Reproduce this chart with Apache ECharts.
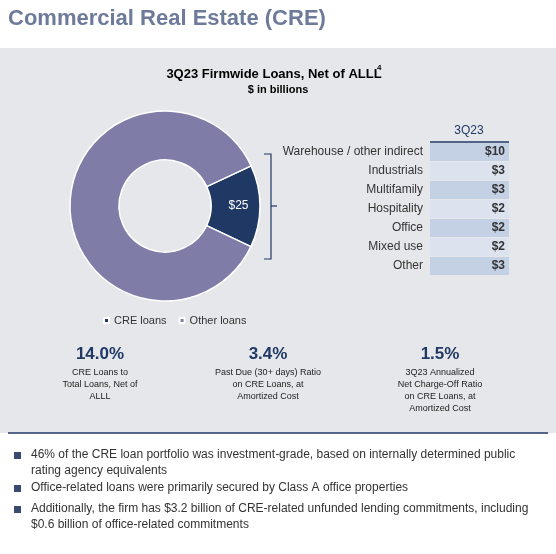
<!DOCTYPE html>
<html><head><meta charset="utf-8">
<script src="https://cdn.jsdelivr.net/npm/echarts@6/dist/echarts.min.js"></script>
<style>html,body{margin:0;padding:0;background:#e6e7ea}#c{width:556px;height:554px}</style>
</head><body><div id="c"></div>
<script>
const pieNames = ['CRE loans', 'Other loans'];
const pieValues = [25, 154];
const tableLabels = ['Warehouse / other indirect','Industrials','Multifamily','Hospitality','Office','Mixed use','Other'];
const tableValues = ['$10','$3','$3','$2','$2','$2','$3'];
const kpiValues = ['14.0%','3.4%','1.5%'];
const kpiTexts = ['CRE Loans to\nTotal Loans, Net of\nALLL','Past Due (30+ days) Ratio\non CRE Loans, at\nAmortized Cost','3Q23 Annualized\nNet Charge-Off Ratio\non CRE Loans, at\nAmortized Cost'];
const kpiX = [100, 268, 440];
const bullets = ['46% of the CRE loan portfolio was investment-grade, based on internally determined public\nrating agency equivalents','Office-related loans were primarily secured by Class A office properties','Additionally, the firm has $3.2 billion of CRE-related unfunded lending commitments, including\n$0.6 billion of office-related commitments'];
const bulletY = [447, 480, 501];

const F = 'Liberation Sans, Arial, sans-serif';
const navy = '#1f3864';
const g = [];
g.push({type:'rect',shape:{x:0,y:0,width:556,height:48},style:{fill:'#fff'},z:-1});
g.push({type:'text',x:8,y:8,style:{text:'Commercial Real Estate (CRE)',font:'bold 22px '+F,fill:'#6d7a99'}});
g.push({type:'rect',shape:{x:0,y:433,width:556,height:121},style:{fill:'#fff'},z:-1});
g.push({type:'line',shape:{x1:8,y1:433,x2:548,y2:433},style:{stroke:navy,lineWidth:1.5}});
g.push({type:'text',x:274,y:68,style:{text:'3Q23 Firmwide Loans, Net of ALLL',font:'bold 13px '+F,fill:'#000',align:'center'}});
g.push({type:'text',x:377,y:64,style:{text:'4',font:'bold 8px '+F,fill:'#000'}});
g.push({type:'text',x:278,y:84,style:{text:'$ in billions',font:'bold 11px '+F,fill:'#000',align:'center'}});
g.push({type:'polyline',shape:{points:[[264,154],[271,154],[271,259],[264,259]]},style:{stroke:navy,lineWidth:1.2,fill:null}});
g.push({type:'line',shape:{x1:271,y1:206,x2:277,y2:206},style:{stroke:navy,lineWidth:1.2}});
g.push({type:'text',x:469,y:125,style:{text:'3Q23',font:'12px '+F,fill:navy,align:'center'}});
g.push({type:'line',shape:{x1:430,y1:142,x2:509,y2:142},style:{stroke:navy,lineWidth:1.5}});
tableLabels.forEach((l,i)=>{
  const y=143+i*19;
  g.push({type:'rect',shape:{x:430,y:y,width:79,height:18},style:{fill:i%2?'#dce3ef':'#c4d0e4'}});
  g.push({type:'text',x:423,y:y+3,style:{text:l,font:'12px '+F,fill:'#333',align:'right'}});
  g.push({type:'text',x:505,y:y+3,style:{text:tableValues[i],font:'bold 12px '+F,fill:'#333',align:'right'}});
});
kpiValues.forEach((v,i)=>{
  g.push({type:'text',x:kpiX[i],y:346,style:{text:v,font:'bold 17px '+F,fill:navy,align:'center'}});
  g.push({type:'text',x:kpiX[i],y:367,style:{text:kpiTexts[i],font:'9px '+F,fill:'#222',align:'center',lineHeight:12}});
});
bullets.forEach((b,i)=>{
  g.push({type:'rect',shape:{x:14,y:bulletY[i]+5,width:7,height:7},style:{fill:'#3a4a6e'}});
  g.push({type:'text',x:31,y:bulletY[i],style:{text:b,font:'12px '+F,fill:'#333',lineHeight:16}});
});

const chart = echarts.init(document.getElementById('c'));
chart.setOption({
  animation:false,
  legend:{data:pieNames,left:98,top:310,itemWidth:5,itemHeight:5,itemGap:12,icon:'rect',
    textStyle:{fontFamily:F,fontSize:11,color:'#333'}},
  series:[{type:'pie',center:[165,206],radius:[46,95],startAngle:25,clockwise:true,
    label:{show:false},emphasis:{disabled:true},
    itemStyle:{borderColor:'#fff',borderWidth:1.5},
    data:pieNames.map((n,i)=>({name:n,value:pieValues[i],
      itemStyle:{color:i===0?'#1f3864':'#7f7ca8'},
      label:i===0?{show:true,position:'inside',formatter:'$'+pieValues[0],color:'#fff',fontSize:12,fontFamily:F}:{show:false}}))
  }],
  graphic:g
});
</script></body></html>
